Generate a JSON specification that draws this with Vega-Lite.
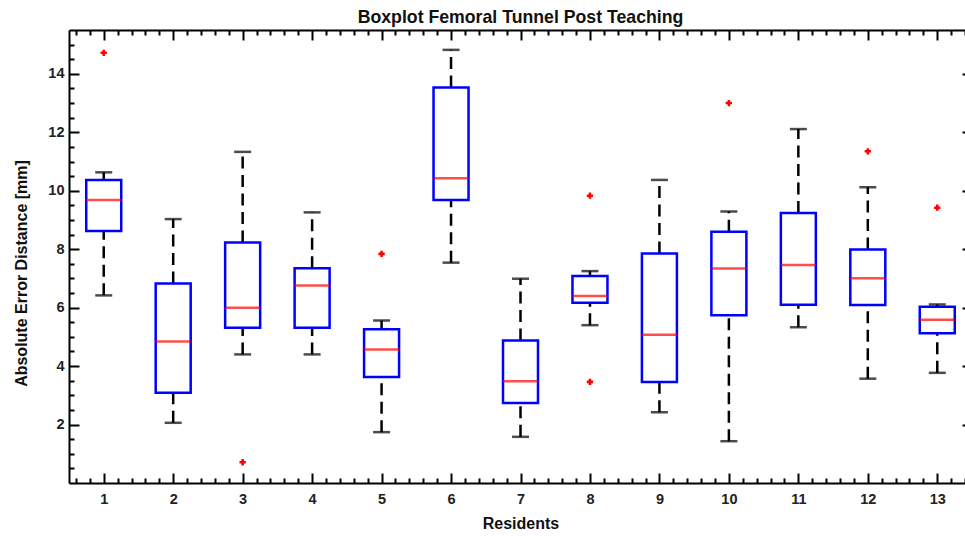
{
  "$schema": "https://vega.github.io/schema/vega-lite/v6.json",
  "width": 903,
  "height": 453,
  "autosize": "none",
  "padding": {"left": 69, "top": 30, "right": 0, "bottom": 53},
  "background": "white",
  "config": {"view": {"stroke": null}, "font": "Liberation Sans"},
  "title": {"text": "Boxplot Femoral Tunnel Post Teaching", "fontSize": 17.7, "fontWeight": "bold", "font": "Liberation Sans", "color": "#111", "anchor": "middle", "offset": 2},
  "datasets": {
    "box": [
      {"r": 1, "lo": 6.42, "q1": 8.62, "med": 9.68, "q3": 10.37, "hi": 10.63},
      {"r": 2, "lo": 2.06, "q1": 3.09, "med": 4.84, "q3": 6.83, "hi": 9.03},
      {"r": 3, "lo": 4.40, "q1": 5.31, "med": 6.0, "q3": 8.23, "hi": 11.33},
      {"r": 4, "lo": 4.40, "q1": 5.31, "med": 6.76, "q3": 7.35, "hi": 9.26},
      {"r": 5, "lo": 1.74, "q1": 3.63, "med": 4.57, "q3": 5.26, "hi": 5.56},
      {"r": 6, "lo": 7.54, "q1": 9.68, "med": 10.43, "q3": 13.53, "hi": 14.82},
      {"r": 7, "lo": 1.58, "q1": 2.74, "med": 3.48, "q3": 4.88, "hi": 6.99},
      {"r": 8, "lo": 5.40, "q1": 6.17, "med": 6.40, "q3": 7.08, "hi": 7.25},
      {"r": 9, "lo": 2.42, "q1": 3.46, "med": 5.07, "q3": 7.85, "hi": 10.37},
      {"r": 10, "lo": 1.43, "q1": 5.74, "med": 7.34, "q3": 8.60, "hi": 9.29},
      {"r": 11, "lo": 5.33, "q1": 6.10, "med": 7.46, "q3": 9.24, "hi": 12.11},
      {"r": 12, "lo": 3.57, "q1": 6.09, "med": 7.01, "q3": 7.99, "hi": 10.12},
      {"r": 13, "lo": 3.77, "q1": 5.12, "med": 5.59, "q3": 6.03, "hi": 6.11}
    ],
    "out": [
      {"r": 1, "v": 14.72},
      {"r": 3, "v": 0.71},
      {"r": 5, "v": 7.84},
      {"r": 8, "v": 9.83},
      {"r": 8, "v": 3.46},
      {"r": 10, "v": 13.0},
      {"r": 12, "v": 11.35},
      {"r": 13, "v": 9.42}
    ]
  },
  "data": {"name": "box"},
  "resolve": {"axis": {"x": "independent", "y": "independent"}},
  "layer": [
    {
      "mark": {"type": "rule", "color": "black", "strokeWidth": 2.5, "strokeDash": [12, 6.5]},
      "encoding": {
        "x": {"field": "r", "type": "quantitative", "scale": {"domain": [0.5, 13.5], "nice": false, "zero": false, "padding": 0},
          "axis": {"orient": "bottom", "values": [1,2,3,4,5,6,7,8,9,10,11,12,13], "ticks": false, "grid": false, "domain": true, "domainColor": "black", "domainWidth": 2, "labelFontSize": 14.5, "labelFontWeight": "bold", "labelColor": "#222", "labelPadding": 9, "title": "Residents", "titleFontSize": 16, "titleFontWeight": "bold", "titleColor": "#111", "titlePadding": 10}},
        "y": {"field": "lo", "type": "quantitative", "scale": {"domain": [0, 15.5], "nice": false, "zero": false, "padding": 0},
          "axis": {"orient": "left", "values": [2,4,6,8,10,12,14], "ticks": false, "grid": false, "domain": true, "domainColor": "black", "domainWidth": 2, "labelFontSize": 14.5, "labelFontWeight": "bold", "labelColor": "#222", "labelPadding": 5, "title": "Absolute Error Distance [mm]", "titleFontSize": 16, "titleFontWeight": "bold", "titleColor": "#111", "titlePadding": 18, "titleY": 243}},
        "y2": {"field": "q1"}
      }
    },
    {
      "mark": {"type": "rule", "color": "black", "strokeWidth": 2.5, "strokeDash": [12, 6.5]},
      "encoding": {
        "x": {"field": "r", "type": "quantitative",
          "axis": {"orient": "bottom", "values": [1,2,3,4,5,6,7,8,9,10,11,12,13], "labels": false, "domain": false, "grid": false, "tickSize": -10, "tickWidth": 2, "tickColor": "black", "title": null}},
        "y": {"field": "q3", "type": "quantitative",
          "axis": {"orient": "left", "values": [2,4,6,8,10,12,14], "labels": false, "domain": false, "grid": false, "tickSize": -10, "tickWidth": 2, "tickColor": "black", "title": null}},
        "y2": {"field": "hi"}
      }
    },
    {
      "mark": {"type": "tick", "orient": "horizontal", "color": "black", "size": 17, "thickness": 2.5},
      "encoding": {
        "x": {"field": "r", "type": "quantitative",
          "axis": {"orient": "bottom", "values": [0.6,0.8,1.2,1.4,1.6,1.8,2.2,2.4,2.6,2.8,3.2,3.4,3.6,3.8,4.2,4.4,4.6,4.8,5.2,5.4,5.6,5.8,6.2,6.4,6.6,6.8,7.2,7.4,7.6,7.8,8.2,8.4,8.6,8.8,9.2,9.4,9.6,9.8,10.2,10.4,10.6,10.8,11.2,11.4,11.6,11.8,12.2,12.4,12.6,12.8,13.2,13.4], "labels": false, "domain": false, "grid": false, "tickSize": -5, "tickWidth": 2, "tickColor": "black", "title": null}},
        "y": {"field": "lo", "type": "quantitative",
          "axis": {"orient": "left", "values": [0.5,1,1.5,2.5,3,3.5,4.5,5,5.5,6.5,7,7.5,8.5,9,9.5,10.5,11,11.5,12.5,13,13.5,14.5,15], "labels": false, "domain": false, "grid": false, "tickSize": -5, "tickWidth": 2, "tickColor": "black", "title": null}}
      }
    },
    {
      "mark": {"type": "tick", "orient": "horizontal", "color": "black", "size": 17, "thickness": 2.5},
      "encoding": {
        "x": {"field": "r", "type": "quantitative",
          "axis": {"orient": "top", "values": [1,2,3,4,5,6,7,8,9,10,11,12,13], "labels": false, "domain": true, "domainColor": "black", "domainWidth": 2, "grid": false, "tickSize": -10, "tickWidth": 2, "tickColor": "black", "title": null}},
        "y": {"field": "hi", "type": "quantitative",
          "axis": {"orient": "right", "values": [2,4,6,8,10,12,14], "labels": false, "domain": true, "domainColor": "black", "domainWidth": 2, "grid": false, "tickSize": -10, "tickWidth": 2, "tickColor": "black", "title": null}}
      }
    },
    {
      "mark": {"type": "bar", "filled": false, "color": "#0000ff", "strokeWidth": 2.5, "size": 35},
      "encoding": {
        "x": {"field": "r", "type": "quantitative",
          "axis": {"orient": "top", "values": [0.6,0.8,1.2,1.4,1.6,1.8,2.2,2.4,2.6,2.8,3.2,3.4,3.6,3.8,4.2,4.4,4.6,4.8,5.2,5.4,5.6,5.8,6.2,6.4,6.6,6.8,7.2,7.4,7.6,7.8,8.2,8.4,8.6,8.8,9.2,9.4,9.6,9.8,10.2,10.4,10.6,10.8,11.2,11.4,11.6,11.8,12.2,12.4,12.6,12.8,13.2,13.4], "labels": false, "domain": false, "grid": false, "tickSize": -5, "tickWidth": 2, "tickColor": "black", "title": null}},
        "y": {"field": "q1", "type": "quantitative",
          "axis": {"orient": "right", "values": [0.5,1,1.5,2.5,3,3.5,4.5,5,5.5,6.5,7,7.5,8.5,9,9.5,10.5,11,11.5,12.5,13,13.5,14.5,15], "labels": false, "domain": false, "grid": false, "tickSize": -5, "tickWidth": 2, "tickColor": "black", "title": null}},
        "y2": {"field": "q3"}
      }
    },
    {
      "mark": {"type": "tick", "orient": "horizontal", "color": "#ff0000", "size": 35, "thickness": 2.5},
      "encoding": {
        "x": {"field": "r", "type": "quantitative", "axis": null},
        "y": {"field": "med", "type": "quantitative", "axis": null}
      }
    },
    {
      "data": {"name": "out"},
      "mark": {"type": "point", "shape": "cross", "filled": true, "color": "#ff0000", "size": 40, "opacity": 1},
      "encoding": {
        "x": {"field": "r", "type": "quantitative", "axis": null},
        "y": {"field": "v", "type": "quantitative", "axis": null}
      }
    }
  ]
}
